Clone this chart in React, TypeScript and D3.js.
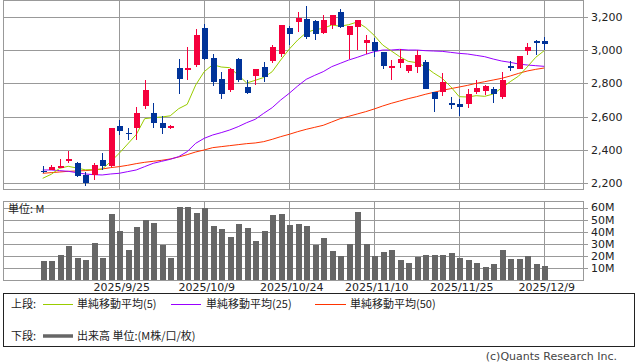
import React from "react";
import * as d3 from "d3";

const dates = [
  "9/10","9/11","9/12","9/16","9/17","9/18","9/19","9/22","9/24","9/25",
  "9/26","9/29","9/30","10/1","10/2","10/3","10/6","10/7","10/8","10/9",
  "10/10","10/14","10/15","10/16","10/17","10/20","10/21","10/22","10/23","10/24",
  "10/27","10/28","10/29","10/30","10/31","11/4","11/5","11/6","11/7","11/10",
  "11/11","11/12","11/13","11/14","11/17","11/18","11/19","11/20","11/21","11/25",
  "11/26","11/27","11/28","12/1","12/2","12/3","12/4","12/5","12/8","12/9",
];

const opens = [
  2274,2280,2294,2334,2322,2252,2248,2340,2306,2544,
  2502,2534,2664,2622,2562,2532,2892,2880,2910,3132,
  2952,2826,2760,2946,2778,2844,2898,2936,2978,3132,
  3168,3186,3172,3102,3150,3228,3092,3140,3044,3048,
  2988,2894,2924,2874,2900,2928,2746,2750,2680,2674,
  2678,2750,2756,2764,2720,2902,2888,2996,3054,3054,
];
const highs = [
  2304,2312,2346,2394,2328,2266,2320,2382,2532,2580,
  2530,2658,2820,2682,2602,2550,2946,3018,3126,3156,
  2976,2870,2894,2952,2820,2886,2930,3032,3150,3144,
  3230,3266,3180,3210,3210,3246,3144,3180,3092,3072,
  2988,2940,3004,2908,3000,2938,2746,2860,2716,2704,
  2764,2820,2792,2776,2868,2932,2962,3044,3058,3076,
];
const lows = [
  2260,2278,2292,2320,2240,2186,2220,2278,2300,2492,
  2460,2460,2648,2534,2496,2526,2736,2820,2900,2940,
  2786,2706,2750,2810,2736,2790,2810,2920,2960,3030,
  3110,3066,3060,3094,3124,3134,2948,3000,2976,2956,
  2886,2820,2894,2864,2864,2764,2630,2724,2644,2606,
  2650,2736,2730,2684,2706,2872,2884,2972,2968,3000,
];
const closes = [
  2265,2300,2306,2348,2246,2204,2312,2304,2532,2516,
  2498,2622,2762,2564,2534,2546,2828,2892,3090,2948,
  2810,2738,2886,2820,2744,2886,2836,3020,3150,3096,
  3194,3078,3098,3180,3210,3140,3144,3180,3060,2992,
  2906,2904,2946,2908,2970,2764,2704,2808,2674,2656,
  2734,2770,2782,2734,2818,2894,2962,3016,3046,3038,
];
const volumes = [
  15.9,15.9,20.9,28.3,18.4,16.7,30.7,18.4,54.6,40.6,
  25.0,43.9,49.7,47.2,29.4,18.4,60.4,60.4,55.4,59.5,
  44.7,42.3,35.7,46.4,43.1,32.4,40.6,53.8,54.6,45.5,
  46.4,44.7,29.1,34.8,24.1,19.8,29.9,56.2,29.9,20.0,
  23.3,25.0,16.7,14.3,19.2,20.9,20.9,20.9,22.5,18.4,
  16.7,14.3,11.0,13.4,25.0,17.6,17.6,20.0,13.4,11.8,
];
const sma5 = [
  2230,2254,2290,2302,2292,2281,2282,2285,2330,2380,
  2436,2492,2588,2594,2598,2605,2648,2674,2790,2870,
  2912,2898,2894,2850,2802,2818,2835,2870,2940,3005,
  3060,3104,3122,3130,3150,3143,3152,3168,3135,3088,
  3030,2995,2960,2932,2924,2900,2862,2830,2780,2720,
  2718,2726,2722,2736,2772,2810,2844,2898,2956,2996,
];
const sma25 = [
  2280,2280,2276,2272,2264,2256,2252,2250,2256,2260,
  2270,2280,2300,2320,2332,2344,2360,2390,2440,2470,
  2490,2504,2520,2540,2564,2584,2620,2654,2700,2740,
  2784,2824,2848,2870,2900,2920,2940,2956,2974,2990,
  3000,3000,3004,3000,3000,2996,2994,2992,2986,2980,
  2976,2968,2960,2946,2934,2926,2916,2910,2906,2902,
];
const sma50 = [
  2260,2264,2268,2272,2274,2276,2280,2286,2294,2300,
  2308,2318,2326,2332,2338,2346,2358,2372,2388,2400,
  2414,2420,2426,2432,2438,2442,2450,2464,2480,2494,
  2510,2524,2536,2548,2568,2588,2602,2616,2630,2646,
  2664,2680,2694,2708,2720,2734,2746,2758,2768,2778,
  2788,2800,2810,2820,2830,2844,2860,2874,2884,2892,
];
const priceTicks = [2200, 2400, 2600, 2800, 3000, 3200];
const volumeTicks = [10, 20, 30, 40, 50, 60];
const labelIndices = [9, 19, 29, 39, 49, 59];

const W = 638;
const H = 362;
const L = 3.5;
const R = 583.5;
const mainTop = 0.5;
const mainBottom = 189.5;
const volTop = 201.5;
const volBottom = 280.5;

const UP = "#f5003c";
const DOWN = "#003399";
const GRID = "#999999";
const FONT = "'DejaVu Sans', Verdana, sans-serif";
const JFONT = "'Noto Sans CJK JP', 'DejaVu Sans', sans-serif";

export default function App() {
  const x = d3.scaleLinear().domain([0, 59]).range([42.7, 544.2]);
  const y = d3.scaleLinear().domain([2200, 3200]).range([183.3, 16.7]);
  const yv = d3.scaleLinear().domain([0, 65]).range([volBottom, volTop]);

  const line = (arr: number[]) =>
    d3.line<number>().x((_, i) => x(i)).y((d) => y(d))(arr) || "";

  const bw = 6;

  return (
    <svg
      width={W}
      height={H}
      style={{ position: "absolute", left: 0, top: 0, background: "#fff" }}
    >
      <rect x={0} y={0} width={W} height={H} fill="#fff" />
      {/* main panel grid */}
      <g shapeRendering="crispEdges">
        {priceTicks.map((t) => (
          <line key={t} x1={L} x2={R + 4} y1={Math.round(y(t)) + 0.5} y2={Math.round(y(t)) + 0.5} stroke={GRID} />
        ))}
        {labelIndices.map((i) => (
          <line key={i} x1={Math.round(x(i)) + 0.5} x2={Math.round(x(i)) + 0.5} y1={mainTop} y2={mainBottom} stroke={GRID} />
        ))}
        <rect x={L} y={mainTop} width={R - L} height={mainBottom - mainTop} fill="none" stroke={GRID} />
      </g>
      {priceTicks.map((t) => (
        <text key={t} x={591} y={y(t)} dy="0.35em" fontFamily={FONT} fontSize={11} fill="#222">
          {d3.format(",")(t)}
        </text>
      ))}

      {/* moving averages */}
      <path d={line(sma50)} fill="none" stroke="#ff3300" strokeWidth={1} />
      <path d={line(sma25)} fill="none" stroke="#9900ff" strokeWidth={1} />
      <path d={line(sma5)} fill="none" stroke="#99cc00" strokeWidth={1} />

      {/* candles */}
      <g shapeRendering="crispEdges">
        {closes.map((c, i) => {
          const o = opens[i];
          const up = c >= o;
          const col = up ? UP : DOWN;
          const cx = Math.round(x(i));
          const top = y(Math.max(o, c));
          const bot = y(Math.min(o, c));
          return (
            <g key={i}>
              <line x1={cx + 0.5} x2={cx + 0.5} y1={y(highs[i])} y2={y(lows[i])} stroke={col} />
              <rect x={cx - bw / 2 + 0.5} y={top} width={bw} height={Math.max(1.5, bot - top)} fill={col} />
            </g>
          );
        })}
      </g>

      {/* volume panel */}
      <g shapeRendering="crispEdges">
        {volumeTicks.map((t) => (
          <line key={t} x1={L} x2={R + 4} y1={Math.round(yv(t)) + 0.5} y2={Math.round(yv(t)) + 0.5} stroke={GRID} />
        ))}
        {labelIndices.map((i) => (
          <line key={i} x1={Math.round(x(i)) + 0.5} x2={Math.round(x(i)) + 0.5} y1={volTop} y2={volBottom} stroke={GRID} />
        ))}
        {volumes.map((v, i) => (
          <rect key={i} x={Math.round(x(i)) - 2.5} y={yv(v)} width={6} height={volBottom - yv(v)} fill="#666666" />
        ))}
        <rect x={L} y={volTop} width={R - L} height={volBottom - volTop} fill="none" stroke={GRID} />
      </g>
      {volumeTicks.map((t) => (
        <text key={t} x={591} y={yv(t)} dy="0.35em" fontFamily={FONT} fontSize={11} fill="#222">
          {t}M
        </text>
      ))}
      <text x={8} y={213} fontFamily={JFONT} fontSize={11} fill="#222">単位: M</text>

      {/* date labels */}
      {labelIndices.map((i) => (
        <text key={i} x={x(i) + 2.5} y={291} textAnchor="middle" fontFamily={FONT} fontSize={11} fill="#222">
          {"2025/" + dates[i]}
        </text>
      ))}

      {/* legend */}
      <rect x={3.5} y={293.5} width={631} height={52.5} fill="none" stroke="#222" shapeRendering="crispEdges" />
      <g fontFamily={JFONT} fontSize={11} fill="#222">
        <text x={11} y={308}>上段:</text>
        <line x1={43} x2={73} y1={304.5} y2={304.5} stroke="#99cc00" />
        <text x={77} y={308}>単純移動平均(5)</text>
        <line x1={171} x2={201} y1={304.5} y2={304.5} stroke="#9900ff" />
        <text x={206} y={308}>単純移動平均(25)</text>
        <line x1={315} x2={346} y1={304.5} y2={304.5} stroke="#ff3300" />
        <text x={350} y={308}>単純移動平均(50)</text>
        <text x={11} y={340}>下段:</text>
        <line x1={43} x2={73} y1={336} y2={336} stroke="#666666" strokeWidth={3.5} />
        <text x={77} y={340}>出来高 単位:(M株/口/枚)</text>
      </g>
      <text x={617} y={360} textAnchor="end" fontFamily={FONT} fontSize={11} fill="#444">
        (c)Quants Research Inc.
      </text>
    </svg>
  );
}
